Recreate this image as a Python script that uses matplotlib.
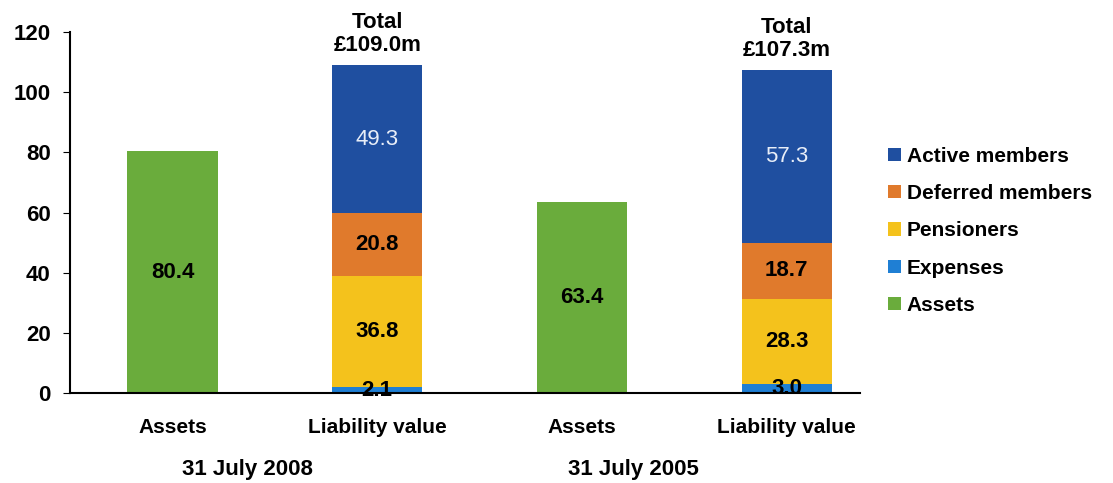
import numpy as np
import matplotlib.pyplot as plt

plt.rcParams['font.family'] = ['Liberation Sans', 'DejaVu Sans']

categories = ['Assets', 'Liability value', 'Assets', 'Liability value']
groups = ['31 July 2008', '31 July 2005']
assets = [80.4, 63.4]
expenses = [2.1, 3.0]
pensioners = [36.8, 28.3]
deferred = [20.8, 18.7]
active = [49.3, 57.3]
totals = ['£109.0m', '£107.3m']

c_active = '#1f4fa0'
c_deferred = '#e07a2c'
c_pens = '#f4c21c'
c_exp = '#1f7fd4'
c_assets = '#6aac3c'

fig = plt.figure(figsize=(11.13, 4.83), dpi=100)
ax = fig.add_axes([0.063, 0.186, 0.71, 0.748])

w = 0.44
x_assets = np.array([0, 2])
x_liab = np.array([1, 3])

ax.bar(x_assets, assets, w, color=c_assets, label='Assets')
b = np.zeros(2)
ax.bar(x_liab, expenses, w, bottom=b, color=c_exp, label='Expenses')
b += expenses
ax.bar(x_liab, pensioners, w, bottom=b, color=c_pens, label='Pensioners')
b += pensioners
ax.bar(x_liab, deferred, w, bottom=b, color=c_deferred, label='Deferred members')
b += deferred
ax.bar(x_liab, active, w, bottom=b, color=c_active, label='Active members')
b += active

lab = dict(ha='center', va='center', fontsize=16, fontweight='bold')
for i in range(2):
    ax.text(x_assets[i], assets[i] / 2, f'{assets[i]:.1f}', **lab)
    ax.text(x_liab[i], expenses[i] / 2, f'{expenses[i]:.1f}', **lab)
    base = expenses[i]
    ax.text(x_liab[i], base + pensioners[i] / 2, f'{pensioners[i]:.1f}', **lab)
    base += pensioners[i]
    ax.text(x_liab[i], base + deferred[i] / 2, f'{deferred[i]:.1f}', **lab)
    base += deferred[i]
    ax.text(x_liab[i], base + active[i] / 2, f'{active[i]:.1f}', ha='center',
            va='center', fontsize=16, color='#e8eef8')
    ax.text(x_liab[i], b[i] + 3.0, 'Total\n' + totals[i], ha='center', va='bottom',
            fontsize=16, fontweight='bold', linespacing=1.1)

ax.set_xlim(-0.5, 3.36)
ax.set_ylim(0, 120)
ax.set_yticks(range(0, 121, 20))
ax.set_xticks(range(4))
ax.set_xticklabels(categories)
ax.tick_params(axis='x', length=0, pad=18, labelsize=15)
ax.tick_params(axis='y', labelsize=16, direction='out', length=5, pad=9)
for t in ax.get_xticklabels() + ax.get_yticklabels():
    t.set_fontweight('bold')
ax.spines['top'].set_visible(False)
ax.spines['right'].set_visible(False)
ax.spines['left'].set_linewidth(1.5)
ax.spines['bottom'].set_linewidth(1.5)

for gx, g in zip([0.366, 2.25], groups):
    ax.text(gx, -0.21, g, transform=ax.get_xaxis_transform(), ha='center',
            va='center', fontsize=16, fontweight='bold')

h, l = ax.get_legend_handles_labels()
fig.legend(h[::-1], l[::-1], loc='center left', bbox_to_anchor=(0.781, 0.522),
           frameon=False, handlelength=0.6, handleheight=0.6, handletextpad=0.3,
           labelspacing=0.88, prop=dict(size=15, weight='bold'))

fig.savefig('out.png', dpi=100)
